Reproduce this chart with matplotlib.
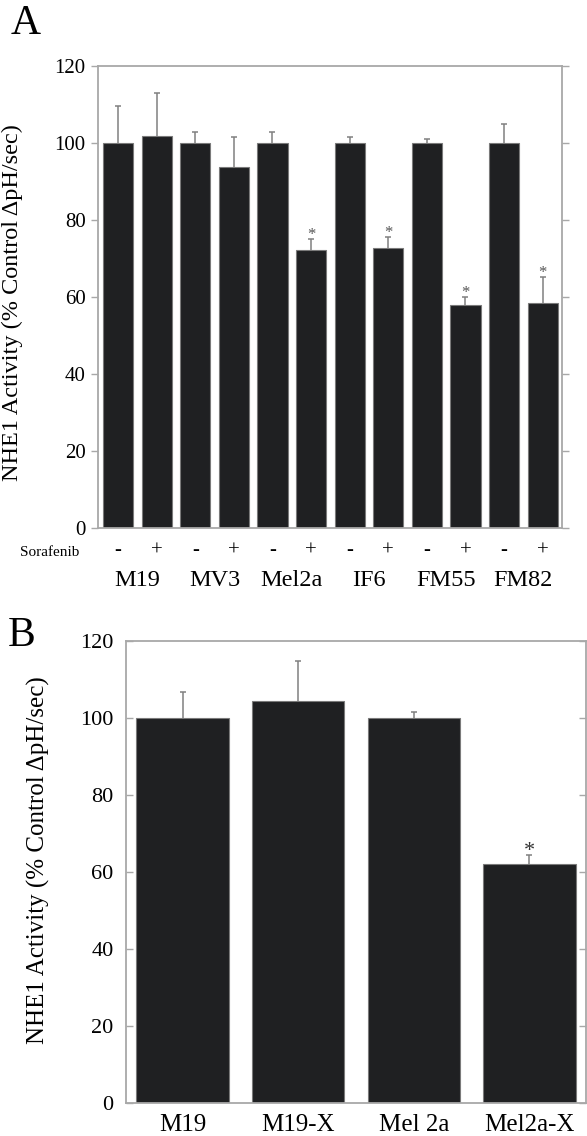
import matplotlib
matplotlib.use("Agg")
import matplotlib.pyplot as plt
import numpy as np

plt.rcParams['font.family'] = ['Liberation Serif', 'DejaVu Serif']

# ---- Panel A data ----
cell_lines_a = ["M19", "MV3", "Mel2a", "IF6", "FM55", "FM82"]
treatment_labels = ["-", "+"]
values_a = [100, 101.8, 100, 93.7, 100, 72.1, 100, 72.6, 100, 57.8, 100, 58.4]
errors_a = [9.6, 11.1, 2.9, 7.9, 2.8, 2.9, 1.5, 3.1, 1.0, 2.3, 4.9, 6.9]
signif_a = [False, False, False, False, False, True, False, True, False, True, False, True]

# ---- Panel B data ----
categories_b = ["M19", "M19-X", "Mel 2a", "Mel2a-X"]
values_b = [100, 104.4, 100, 62.0]
errors_b = [6.8, 10.5, 1.6, 2.4]
signif_b = [False, False, False, True]

yticks = [0, 20, 40, 60, 80, 100, 120]
ylabel = "NHE1 Activity (% Control \u0394pH/sec)"

W, H = 587, 1136
fig = plt.figure(figsize=(W / 100, H / 100), dpi=100)

bar_color = "#1f2022"
edge_color = "#7a7a7a"
spine_color = "#a8a8a8"
err_color = "#808080"

def px_axes(l, r, t, b):
    return fig.add_axes([l / W, 1 - b / H, (r - l) / W, (b - t) / H])

def upper_errorbars(ax, x, vals, errs):
    cont = ax.errorbar(x, vals, yerr=[np.zeros(len(errs)), errs], fmt='none',
                       ecolor=err_color, elinewidth=1.1, capsize=2.4, capthick=1.1, zorder=1)
    caps = cont.lines[1]
    if len(caps) >= 2:
        caps[0].set_visible(False)

# ---------- Panel A ----------
axA = px_axes(98, 562, 66, 528)
xa = np.arange(len(values_a))
axA.bar(xa, values_a, width=0.78, color=bar_color, edgecolor=edge_color, linewidth=0.8, zorder=2)
upper_errorbars(axA, xa, values_a, errors_a)
for i, s in enumerate(signif_a):
    if s:
        axA.annotate("*", (xa[i], values_a[i] + errors_a[i]), xytext=(0, 0),
                     textcoords="offset points", ha="center", va="baseline",
                     fontsize=12, color="#555555")
axA.set_xlim(-0.52, 11.5)
axA.set_ylim(0, 120)
axA.set_yticks(yticks)
axA.set_yticklabels([str(t) for t in yticks], fontsize=15)
axA.tick_params(axis='y', direction='out', length=5, width=1, color=spine_color, pad=4,
                right=True, labelright=False)
axA.set_xticks([])
for sp in axA.spines.values():
    sp.set_color(spine_color)
    sp.set_linewidth(1.3)

# treatment row and cell line row
for i in range(len(values_a)):
    axA.text(xa[i], -0.049, treatment_labels[i % 2], transform=axA.get_xaxis_transform(),
             ha="center", va="center", fontsize=15)
for j, name in enumerate(cell_lines_a):
    axA.text(2 * j + 0.5, -0.113, name, transform=axA.get_xaxis_transform(),
             ha="center", va="center", fontsize=17.5)
fig.text(50 / W, 1 - 552 / H, "Sorafenib", ha="center", va="center", fontsize=11)
fig.text(12 / W, 1 - 303 / H, ylabel, rotation=90, ha="center", va="center", fontsize=17.5)
fig.text(26 / W, 1 - 24 / H, "A", ha="center", va="center", fontsize=30)

# ---------- Panel B ----------
axB = px_axes(126, 586, 641, 1103)
xb = np.arange(len(values_b))
axB.bar(xb, values_b, width=0.8, color=bar_color, edgecolor=edge_color, linewidth=0.8, zorder=2)
upper_errorbars(axB, xb, values_b, errors_b)
for i, s in enumerate(signif_b):
    if s:
        axB.annotate("*", (xb[i], values_b[i] + errors_b[i]), xytext=(0, -1),
                     textcoords="offset points", ha="center", va="baseline",
                     fontsize=16, color="#333333")
axB.set_xlim(-0.49, 3.49)
axB.set_ylim(0, 120)
axB.set_yticks(yticks)
axB.set_yticklabels([str(t) for t in yticks], fontsize=16)
axB.tick_params(axis='y', direction='in', length=5, width=1, color=spine_color, pad=9,
                right=True, labelright=False)
axB.set_xticks(xb)
axB.set_xticklabels(categories_b, fontsize=18)
axB.tick_params(axis='x', length=0, pad=8)
for sp in axB.spines.values():
    sp.set_color(spine_color)
    sp.set_linewidth(1.3)
fig.text(38 / W, 1 - 860 / H, ylabel, rotation=90, ha="center", va="center", fontsize=18)
fig.text(22 / W, 1 - 636 / H, "B", ha="center", va="center", fontsize=30)

fig.savefig("out.png", dpi=100)
